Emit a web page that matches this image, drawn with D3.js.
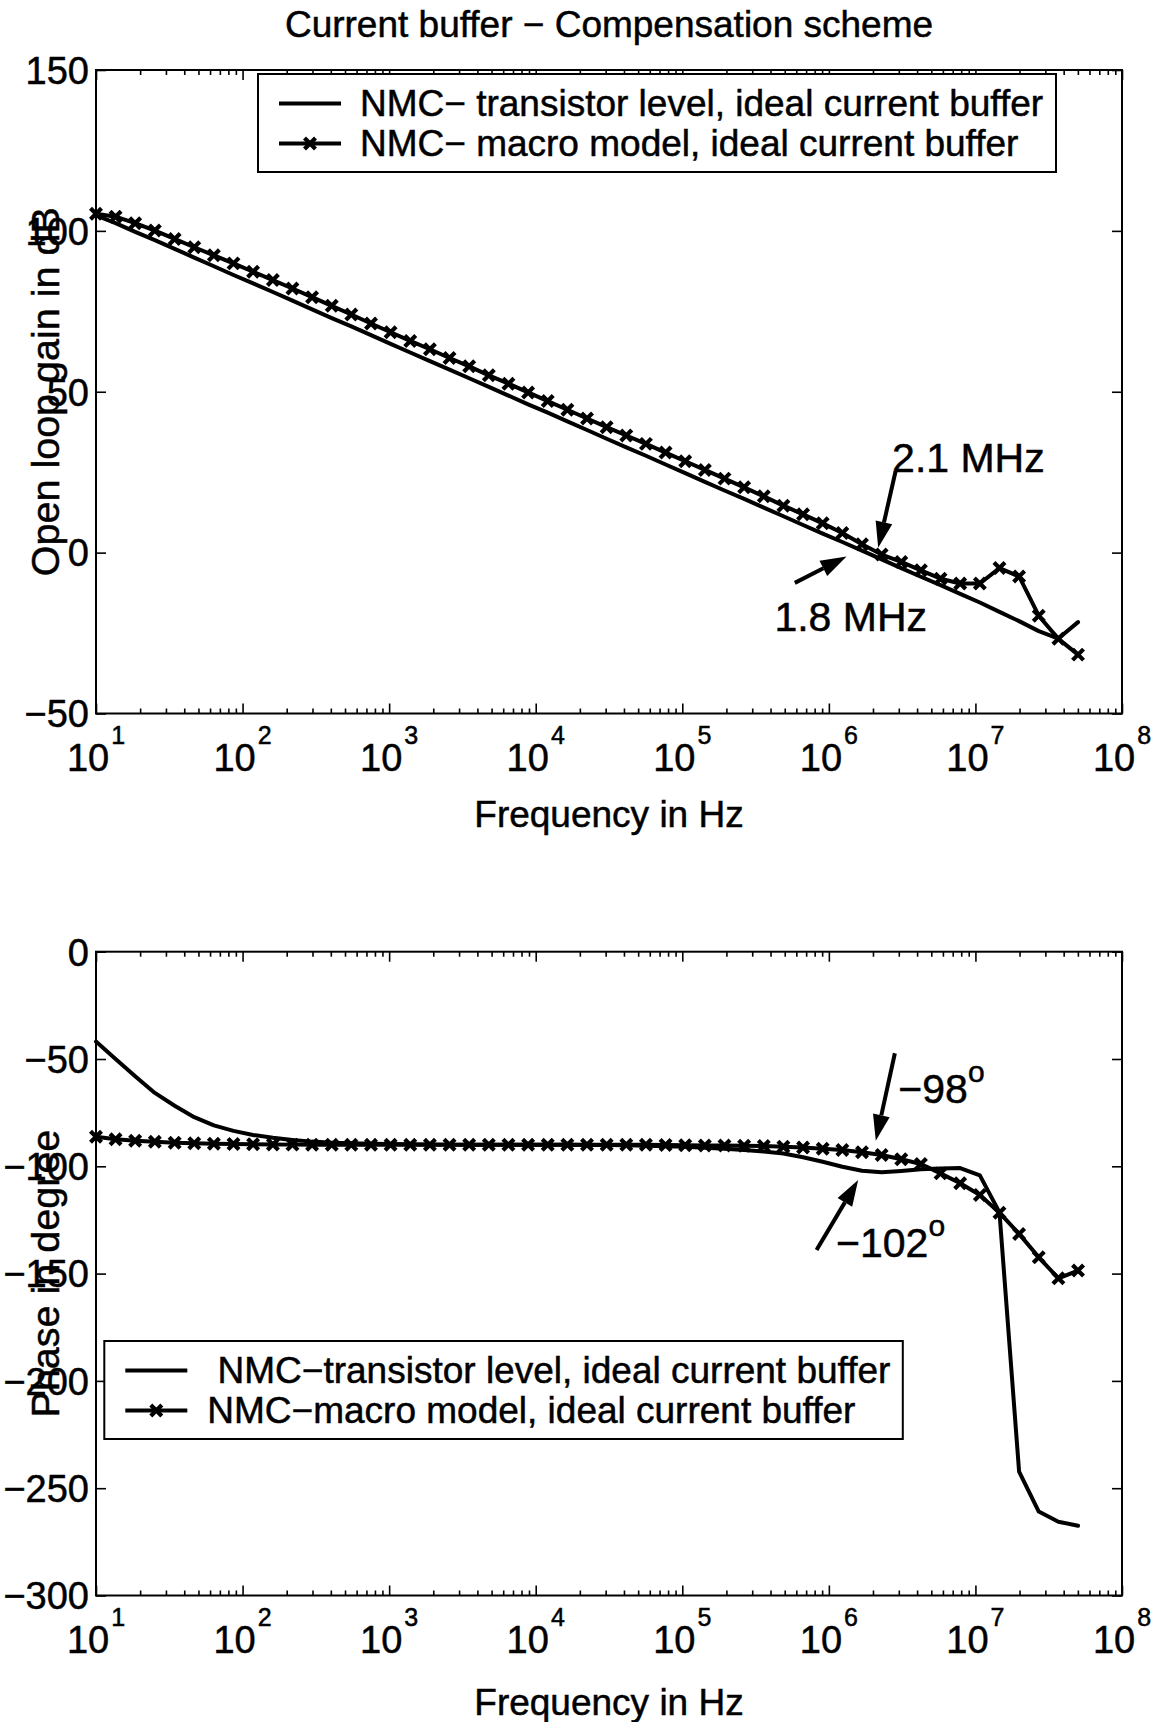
<!DOCTYPE html>
<html>
<head>
<meta charset="utf-8">
<script src="https://cdn.jsdelivr.net/npm/d3@7"></script>
<style>
  html, body { margin: 0; padding: 0; background: #fff; }
  svg text { font-family: "Liberation Sans", Arial, Helvetica, sans-serif; fill: #000; stroke: #000; stroke-width: 0.5px; }
</style>
</head>
<body>
<svg id="fig" width="1163" height="1722"></svg>
<script>
// Frequency grid of the AC sweep (Hz)
const freqHz = [10, 13.6, 18.5, 25.2, 34.4, 46.8, 63.7, 86.7, 118, 161,
  219, 298, 406, 552, 752, 1023, 1393, 1897, 2582, 3516,
  4786, 6516, 8872, 12078, 16444, 22387, 30479, 41495, 56494, 76913,
  104713, 142561, 194089, 264241, 359749, 489779, 666807, 907821, 1.236e6, 1.683e6,
  2.291e6, 3.119e6, 4.246e6, 5.781e6, 7.870e6, 1.072e7, 1.459e7, 1.986e7, 2.704e7, 3.681e7,
  5.012e7];

// Open loop gain (dB)
const gainTransistor = [104.8, 102.4, 99.7, 97.1, 94.4, 91.7, 89.0, 86.3, 83.7, 81.0,
  78.3, 75.6, 72.9, 70.3, 67.6, 64.9, 62.2, 59.5, 56.9, 54.2,
  51.5, 48.8, 46.1, 43.5, 40.8, 38.1, 35.4, 32.7, 30.1, 27.4,
  24.7, 22.0, 19.3, 16.7, 14.0, 11.3, 8.6, 5.9, 3.3, 0.6,
  -2.1, -4.8, -7.5, -10.1, -12.8, -15.5, -18.4, -21.3, -24.4, -26.7,
  -21.6];
const gainMacro = [105.3, 104.4, 102.4, 100.1, 97.5, 94.9, 92.4, 89.9, 87.3, 84.7,
  82.1, 79.4, 76.7, 74.0, 71.2, 68.5, 65.8, 63.2, 60.5, 57.9,
  55.1, 52.5, 49.8, 47.1, 44.4, 41.7, 39.0, 36.4, 33.8, 31.1,
  28.4, 25.7, 23.0, 20.3, 17.5, 14.6, 11.9, 9.1, 6.1, 2.6,
  -0.6, -2.9, -5.5, -8.1, -9.6, -9.6, -4.8, -7.4, -19.6, -26.8,
  -31.7];

// Phase (degree)
const phaseTransistor = [-41.9, -50.0, -58.0, -65.8, -71.8, -77.1, -80.9, -83.5, -85.4, -86.7,
  -87.7, -88.5, -89.0, -89.3, -89.5, -89.6, -89.7, -89.8, -89.9, -89.9,
  -90.0, -90.0, -90.0, -90.0, -90.0, -90.1, -90.1, -90.2, -90.4, -90.6,
  -90.9, -91.3, -91.8, -92.4, -93.1, -94.0, -95.8, -97.9, -100.2, -102.1,
  -102.8, -102.2, -101.4, -101.0, -100.8, -104.2, -121.5, -242.3, -260.9, -265.6,
  -267.5];
const phaseMacro = [-86.2, -87.4, -88.1, -88.6, -89.0, -89.3, -89.5, -89.6, -89.7, -89.8,
  -89.9, -90.0, -90.0, -90.0, -90.0, -90.0, -90.0, -90.0, -90.0, -90.0,
  -90.0, -90.0, -90.0, -90.0, -90.0, -90.0, -90.0, -90.0, -90.0, -90.1,
  -90.2, -90.3, -90.3, -90.4, -90.5, -90.9, -91.2, -91.8, -92.4, -93.5,
  -94.7, -96.7, -98.9, -103.3, -107.9, -113.4, -121.6, -131.5, -142.4, -152.2,
  -148.6];

// Axis ticks
const decadeExponents = [1, 2, 3, 4, 5, 6, 7, 8];
const gainTicks = [-50, 0, 50, 100, 150];
const phaseTicks = [-300, -250, -200, -150, -100, -50, 0];

// Texts
const titleText = "Current buffer \u2212 Compensation scheme";
const xLabelText = "Frequency in Hz";
const gainLabelText = "Open loop gain in dB";
const phaseLabelText = "Phase in degree";
const gainLegendLabels = ["NMC\u2212 transistor level, ideal current buffer", "NMC\u2212 macro model, ideal current buffer"];
const phaseLegendLabels = [" NMC\u2212transistor level, ideal current buffer", "NMC\u2212macro model, ideal current buffer"];

// Annotations: text placed at [freq, value], arrow from -> to (data units)
const gainNotes = [
  { text: "2.1 MHz", sup: "", at: [2.70e6, 25.2], from: [2.85e6, 25.2], to: [2.17e6, 1.5] },
  { text: "1.8 MHz", sup: "", at: [4.25e5, -24.4], from: [5.86e5, -9.4], to: [1.32e6, -1.2] }
];
const phaseNotes = [
  { text: "\u221298", sup: "o", at: [2.98e6, -70.6], from: [2.82e6, -47.3], to: [2.09e6, -88.1] },
  { text: "\u2212102", sup: "o", at: [1.12e6, -142.1], from: [8.24e5, -139.0], to: [1.585e6, -106.4] }
];

// ---------------------------------------------------------------- layout
const L = {
  left: 96, right: 1122,
  gain: { top: 70, bottom: 713.5 },
  phase: { top: 951.7, bottom: 1595.5 },
  tickFont: 38, supFont: 25, labelFont: 37, yLabelFont: 39.5, legendFont: 37, noteFont: 41
};

const svg = d3.select("#fig");
svg.append("rect").attr("width", 1163).attr("height", 1722).attr("fill", "#fff");

const x = d3.scaleLog().domain([10, 1e8]).range([L.left, L.right]);

const minorTicks = [];
decadeExponents.slice(0, -1).forEach(e => {
  for (let m = 2; m <= 9; m++) minorTicks.push(m * Math.pow(10, e));
});

svg.append("text")
  .attr("x", 609).attr("y", 37)
  .attr("text-anchor", "middle")
  .attr("font-size", 37)
  .text(titleText);

function styleAxis(g) {
  g.select(".domain").remove();
  g.selectAll(".tick line").attr("stroke", "#000").attr("stroke-width", 1.6);
  g.attr("font-family", null).attr("font-size", null);
}

function drawPanel(cfg) {
  const { top, bottom } = cfg.box;
  const y = d3.scaleLinear().domain(cfg.domain).range([bottom, top]);
  const g = svg.append("g");

  // ticks on all four sides, pointing inward
  const majors = decadeExponents.map(e => Math.pow(10, e));
  const bx = g.append("g").attr("transform", `translate(0,${bottom})`)
    .call(d3.axisBottom(x).tickValues(majors).tickSize(-10).tickFormat(""));
  styleAxis(bx);
  const bxm = g.append("g").attr("transform", `translate(0,${bottom})`)
    .call(d3.axisBottom(x).tickValues(minorTicks).tickSize(-5).tickFormat(""));
  styleAxis(bxm);
  const tx = g.append("g").attr("transform", `translate(0,${top})`)
    .call(d3.axisTop(x).tickValues(majors).tickSize(-10).tickFormat(""));
  styleAxis(tx);
  const txm = g.append("g").attr("transform", `translate(0,${top})`)
    .call(d3.axisTop(x).tickValues(minorTicks).tickSize(-5).tickFormat(""));
  styleAxis(txm);

  const ly = g.append("g").attr("transform", `translate(${L.left},0)`)
    .call(d3.axisLeft(y).tickValues(cfg.ticks).tickSize(-10).tickPadding(7));
  styleAxis(ly);
  ly.selectAll(".tick text").attr("font-size", L.tickFont).attr("dy", "0.35em");
  const ry = g.append("g").attr("transform", `translate(${L.right},0)`)
    .call(d3.axisRight(y).tickValues(cfg.ticks).tickSize(-10).tickFormat(""));
  styleAxis(ry);

  // frame
  g.append("rect")
    .attr("x", L.left).attr("y", top)
    .attr("width", L.right - L.left).attr("height", bottom - top)
    .attr("fill", "none").attr("stroke", "#000").attr("stroke-width", 2);

  // decade labels 10^n
  const xl = g.append("g").selectAll("text").data(decadeExponents).join("text")
    .attr("x", e => x(Math.pow(10, e)))
    .attr("y", bottom + 57)
    .attr("text-anchor", "middle")
    .attr("font-size", L.tickFont);
  xl.append("tspan").text("10");
  xl.append("tspan").attr("font-size", L.supFont).attr("dy", -27).attr("dx", 2).text(e => e);

  // axis labels
  g.append("text")
    .attr("x", (L.left + L.right) / 2).attr("y", cfg.xLabelY)
    .attr("text-anchor", "middle").attr("font-size", L.labelFont)
    .text(xLabelText);
  g.append("text")
    .attr("transform", `translate(59,${(top + bottom) / 2}) rotate(-90)`)
    .attr("text-anchor", "middle").attr("font-size", L.yLabelFont)
    .text(cfg.yLabel);

  // curves
  const line = d3.line().x((d, i) => x(freqHz[i])).y(d => y(d));
  g.append("path").datum(cfg.transistor).attr("d", line)
    .attr("fill", "none").attr("stroke", "#000").attr("stroke-width", 4)
    .attr("stroke-linejoin", "round").attr("stroke-linecap", "round");
  g.append("path").datum(cfg.macro).attr("d", line)
    .attr("fill", "none").attr("stroke", "#000").attr("stroke-width", 4)
    .attr("stroke-linejoin", "round").attr("stroke-linecap", "round");
  const s = 5.5;
  const crossPath = `M${-s},${-s}L${s},${s}M${-s},${s}L${s},${-s}`;
  g.append("g").selectAll("path").data(cfg.macro).join("path")
    .attr("transform", (d, i) => `translate(${x(freqHz[i])},${y(d)})`)
    .attr("d", crossPath)
    .attr("stroke", "#000").attr("stroke-width", 4.2).attr("fill", "none");

  // annotations
  cfg.notes.forEach(n => {
    const x0 = x(n.from[0]), y0 = y(n.from[1]);
    const x1 = x(n.to[0]), y1 = y(n.to[1]);
    const ang = Math.atan2(y1 - y0, x1 - x0);
    const head = 26, half = 8.5;
    const bxp = x1 - head * Math.cos(ang), byp = y1 - head * Math.sin(ang);
    g.append("line")
      .attr("x1", x0).attr("y1", y0).attr("x2", bxp).attr("y2", byp)
      .attr("stroke", "#000").attr("stroke-width", 4);
    g.append("path")
      .attr("d", `M${x1},${y1}L${bxp + half * Math.sin(ang)},${byp - half * Math.cos(ang)}L${bxp - half * Math.sin(ang)},${byp + half * Math.cos(ang)}Z`)
      .attr("fill", "#000");
    const t = g.append("text")
      .attr("x", x(n.at[0])).attr("y", y(n.at[1]))
      .attr("font-size", L.noteFont);
    t.append("tspan").text(n.text);
    if (n.sup) t.append("tspan").attr("font-size", 30).attr("dy", -21).text(n.sup);
  });

  // legend
  const lg = cfg.legend;
  const leg = g.append("g");
  leg.append("rect")
    .attr("x", lg.x).attr("y", lg.y).attr("width", lg.w).attr("height", 98)
    .attr("fill", "#fff").attr("stroke", "#000").attr("stroke-width", 2);
  lg.labels.forEach((label, i) => {
    const base = lg.y + 42 + 40 * i;
    const ly2 = base - 12.5;
    leg.append("line")
      .attr("x1", lg.x + 21).attr("x2", lg.x + 83).attr("y1", ly2).attr("y2", ly2)
      .attr("stroke", "#000").attr("stroke-width", 4);
    if (i === 1) {
      leg.append("path")
        .attr("transform", `translate(${lg.x + 52},${ly2})`)
        .attr("d", crossPath)
        .attr("stroke", "#000").attr("stroke-width", 4.2).attr("fill", "none");
    }
    leg.append("text")
      .attr("x", lg.x + lg.textDx).attr("y", base)
      .attr("font-size", L.legendFont)
      .attr("xml:space", "preserve")
      .style("white-space", "pre")
      .text(label);
  });
}

drawPanel({
  box: L.gain, domain: [-50, 150], ticks: gainTicks,
  transistor: gainTransistor, macro: gainMacro,
  yLabel: gainLabelText, xLabelY: 827,
  notes: gainNotes,
  legend: { x: 258, y: 74, w: 798, textDx: 102, labels: gainLegendLabels }
});

drawPanel({
  box: L.phase, domain: [-300, 0], ticks: phaseTicks,
  transistor: phaseTransistor, macro: phaseMacro,
  yLabel: phaseLabelText, xLabelY: 1715,
  notes: phaseNotes,
  legend: { x: 104.3, y: 1341, w: 798.5, textDx: 103, labels: phaseLegendLabels }
});
</script>
</body>
</html>
